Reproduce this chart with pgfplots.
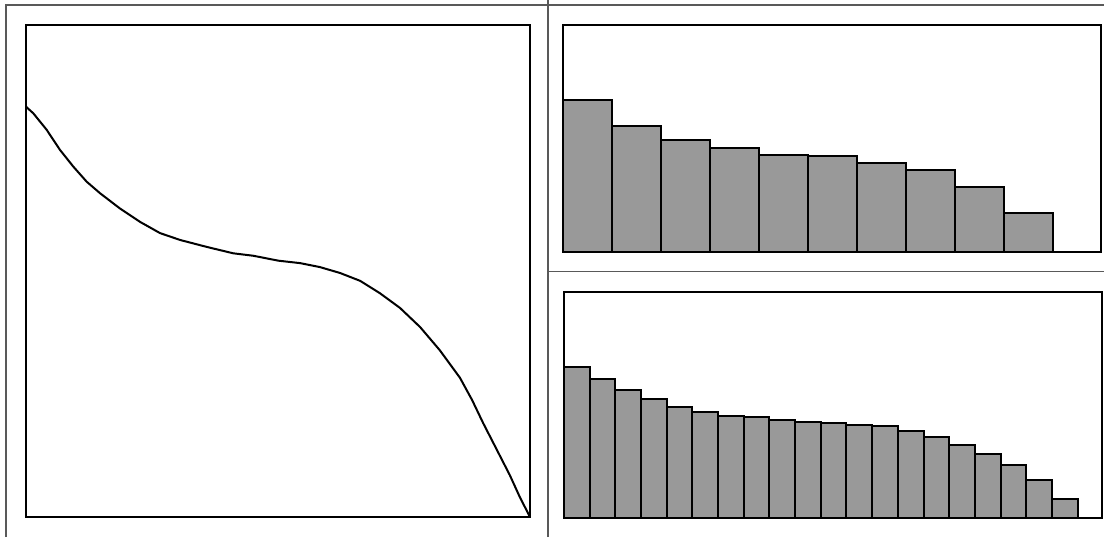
\documentclass[border=0pt]{standalone}
\usepackage{pgfplots}
\pgfplotsset{compat=1.18}
\begin{document}
\begin{tikzpicture}
\useasboundingbox (0,0) rectangle (552pt,268.5pt);
% decorative frame lines of the scan
\draw[gray!70!black, line width=0.6pt] (3pt,0) -- (3pt,266pt) -- (552pt,266pt);
\draw[gray!70!black, line width=0.6pt] (274pt,0) -- (274pt,268.5pt);
\draw[gray!70!black, line width=0.6pt] (274pt,132.65pt) -- (552pt,132.65pt);

\begin{axis}[
  at={(13pt,10pt)}, anchor=south west,
  scale only axis, width=252pt, height=246pt,
  xmin=0, xmax=100, ymin=0, ymax=100,
  ticks=none, axis line style={line width=1pt},
]
\addplot[black, line width=1pt, line join=round] coordinates {
(0,83.4) (1.45,82.05) (4.1,78.7) (6.75,74.6) (9.4,71.2) (12.04,68.15)
(14.7,65.8) (18.65,62.7) (22.6,60.0) (26.6,57.7) (30.6,56.3) (35.85,54.9)
(41.1,53.6) (45.1,53.1) (50.06,52.1) (54.4,51.6) (58.3,50.8) (62.3,49.6)
(66.3,48.0) (70.2,45.5) (74.2,42.5) (78.2,38.6) (82.1,33.9) (86.1,28.3)
(88.5,23.8) (90.7,19.1) (93.65,13.2) (96.0,8.5) (98.0,4.0) (100,0)
};
\end{axis}

\begin{axis}[
  at={(281.5pt,142.5pt)}, anchor=south west,
  scale only axis, width=269pt, height=113.5pt,
  xmin=0.5, xmax=11.48, ymin=0, ymax=227,
  ticks=none, axis line style={line width=1pt},
  ybar, bar width=1,
]
\addplot[fill=black!40, draw=black, line width=1pt] coordinates {
(1,152) (2,126.3) (3,112) (4,103.7) (5,97) (6,96) (7,89.3) (8,82) (9,65.3) (10,39)
};
\end{axis}

\begin{axis}[
  at={(282pt,9.5pt)}, anchor=south west,
  scale only axis, width=269pt, height=113pt,
  xmin=0.5, xmax=21.45, ymin=0, ymax=226,
  ticks=none, axis line style={line width=1pt},
  ybar, bar width=1,
]
\addplot[fill=black!40, draw=black, line width=1pt] coordinates {
(1,150.6) (2,139.3) (3,127.6) (4,119.3) (5,111) (6,106) (7,102.3) (8,101)
(9,98.3) (10,96) (11,95) (12,93) (13,91.6) (14,87.3) (15,81) (16,73.3)
(17,64.3) (18,53.3) (19,38) (20,19.3)
};
\end{axis}
\end{tikzpicture}
\end{document}
